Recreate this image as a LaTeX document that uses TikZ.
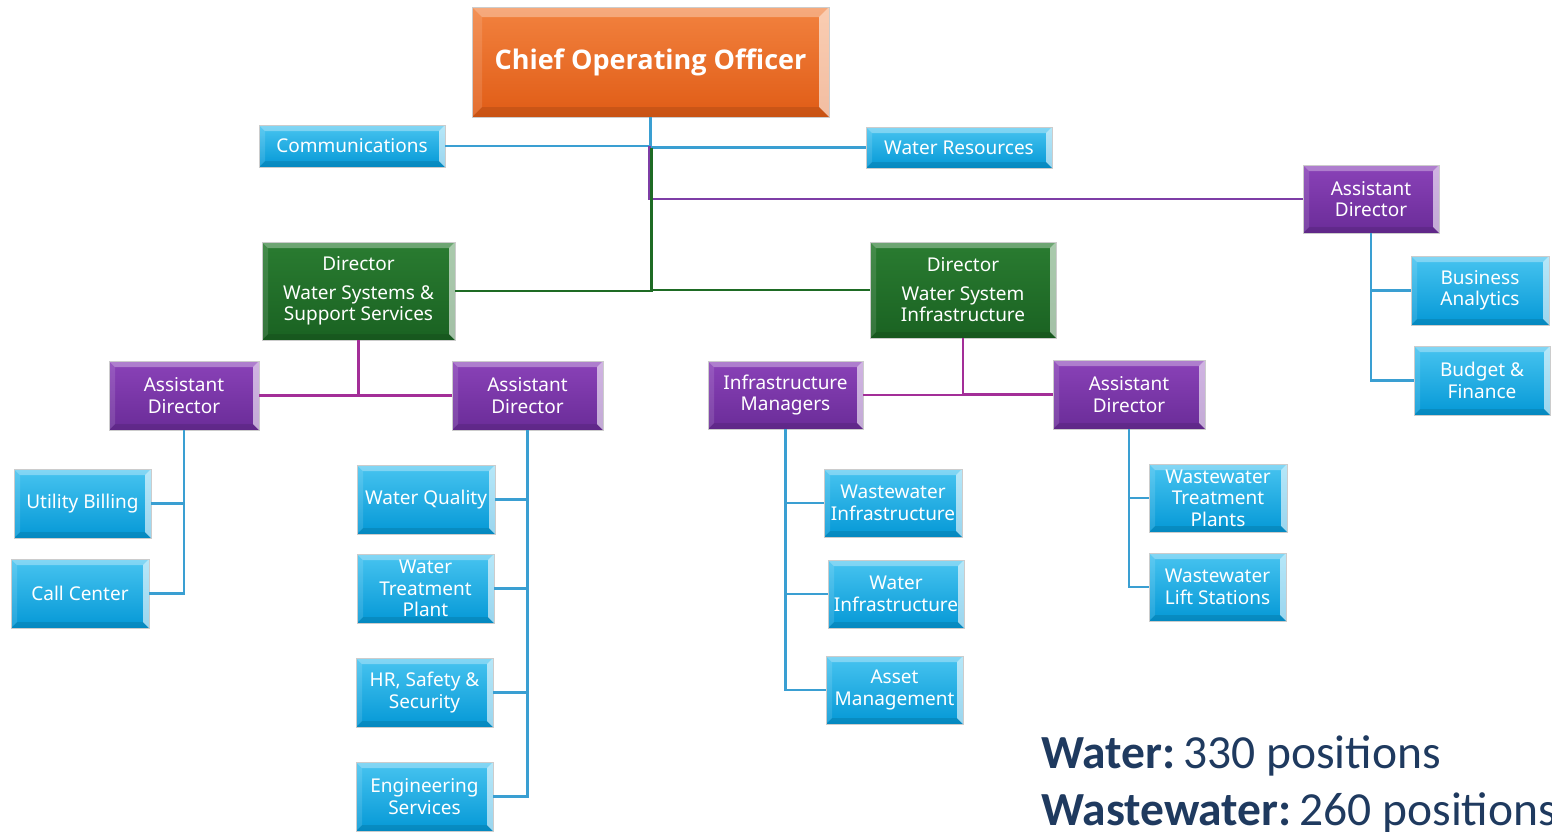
\documentclass[tikz,border=0pt]{standalone}
\usepackage{fontspec}
\setmainfont{Noto Sans}
\newfontfamily\calib{Carlito}
\newfontfamily\coofont{Open Sans}[UprightFont=* Bold]
\definecolor{bluetop}{HTML}{48C4F0}
\definecolor{bluebot}{HTML}{0498D6}
\definecolor{purtop}{HTML}{8A42B8}
\definecolor{purbot}{HTML}{6A2C98}
\definecolor{grntop}{HTML}{2A7C31}
\definecolor{grnbot}{HTML}{1A6222}
\definecolor{ortop}{HTML}{F2823F}
\definecolor{orbot}{HTML}{E05C16}
\definecolor{cblue}{HTML}{3A9FD2}
\definecolor{cpurple}{HTML}{7E3EA6}
\definecolor{cmag}{HTML}{A32E98}
\definecolor{cgreen}{HTML}{1E6B24}
\definecolor{navy}{HTML}{1F3A5F}
\begin{document}
\begin{tikzpicture}[x=1pt,y=-1pt,
  bevel/.style={path picture={
    \fill[white,opacity=.32] (path picture bounding box.north west) -- (path picture bounding box.north east)
      -- ([shift={(-#1,-#1)}]path picture bounding box.north east) -- ([shift={(#1,-#1)}]path picture bounding box.north west) -- cycle;
    \fill[white,opacity=.6] (path picture bounding box.north east) -- (path picture bounding box.south east)
      -- ([shift={(-#1,#1)}]path picture bounding box.south east) -- ([shift={(-#1,-#1)}]path picture bounding box.north east) -- cycle;
    \fill[black,opacity=.10] (path picture bounding box.south west) -- (path picture bounding box.south east)
      -- ([shift={(-#1,#1)}]path picture bounding box.south east) -- ([shift={(#1,#1)}]path picture bounding box.south west) -- cycle;
    \fill[white,opacity=.12] (path picture bounding box.north west) -- (path picture bounding box.south west)
      -- ([shift={(#1,#1)}]path picture bounding box.south west) -- ([shift={(#1,-#1)}]path picture bounding box.north west) -- cycle;
  }},
  orgbox/.style={draw=black!20, line width=0.8pt, inner sep=0pt, align=center, text=white,
    font=\fontsize{19}{21.5}\selectfont, bevel=6pt},
  bluebox/.style={orgbox, top color=bluetop, bottom color=bluebot},
  purbox/.style={orgbox, top color=purtop, bottom color=purbot},
  grnbox/.style={orgbox, top color=grntop, bottom color=grnbot},
  orbox/.style={orgbox, top color=ortop, bottom color=orbot, bevel=10pt,
    font=\coofont\fontsize{27}{32}\selectfont},
  blueline/.style={draw=cblue, line width=2.6pt},
  purline/.style={draw=cpurple, line width=2.2pt},
  magline/.style={draw=cmag, line width=2.6pt},
  grnline/.style={draw=cgreen, line width=2.6pt},
  note/.style={anchor=base west, text=navy, inner sep=0pt, font=\calib\fontsize{47.5}{54}\selectfont}
]
\useasboundingbox (0,0) rectangle (1552,831);

% nodes
\node[orbox, minimum width=357pt, minimum height=110pt] (coo) at (650.5,62) {Chief Operating Officer};
\node[bluebox, minimum width=186pt, minimum height=42pt] (comm) at (352,146) {Communications};
\node[bluebox, minimum width=186pt, minimum height=41pt] (wr) at (959,147.5) {Water Resources};
\node[purbox, minimum width=136pt, minimum height=68pt] (adr) at (1371,199) {Assistant\\Director};
\node[grnbox, minimum width=193pt, minimum height=98pt] (dira) at (358.5,291) {Director\\[7pt]Water Systems \&\\Support Services};
\node[grnbox, minimum width=186pt, minimum height=96pt] (dirb) at (963,290) {Director\\[7pt]Water System\\Infrastructure};
\node[purbox, minimum width=150pt, minimum height=69pt] (ad1) at (184,395.5) {Assistant\\Director};
\node[purbox, minimum width=151pt, minimum height=69pt] (ad2) at (527.5,395.5) {Assistant\\Director};
\node[purbox, minimum width=155pt, minimum height=68pt] (im) at (785.5,395) {Infrastructure\\Managers};
\node[purbox, minimum width=152pt, minimum height=69pt] (ad4) at (1129,394.5) {Assistant\\Director};
\node[bluebox, minimum width=138pt, minimum height=69pt] (ba) at (1480,290.5) {Business\\Analytics};
\node[bluebox, minimum width=136pt, minimum height=69pt] (bf) at (1482,380.5) {Budget \&\\Finance};
\node[bluebox, minimum width=137pt, minimum height=69pt] (ub) at (82.5,503.5) {Utility Billing};
\node[bluebox, minimum width=138pt, minimum height=69pt] (cc) at (80,593.5) {Call Center};
\node[bluebox, minimum width=138pt, minimum height=69pt] (wq) at (426,499.5) {Water Quality};
\node[bluebox, minimum width=137pt, minimum height=69pt] (wtp) at (425.5,588.5) {Water\\Treatment\\Plant};
\node[bluebox, minimum width=137pt, minimum height=69pt] (hr) at (424.5,692.5) {HR, Safety \&\\Security};
\node[bluebox, minimum width=137pt, minimum height=69pt] (es) at (424.5,796.5) {Engineering\\Services};
\node[bluebox, minimum width=138pt, minimum height=68pt] (wi) at (893,503) {Wastewater\\Infrastructure};
\node[bluebox, minimum width=136pt, minimum height=68pt] (wai) at (896,594) {Water\\Infrastructure};
\node[bluebox, minimum width=137pt, minimum height=68pt] (am) at (894.5,690) {Asset\\Management};
\node[bluebox, minimum width=138pt, minimum height=68pt] (wtps) at (1218,498) {Wastewater\\Treatment\\Plants};
\node[bluebox, minimum width=137pt, minimum height=68pt] (wls) at (1217.5,587) {Wastewater\\Lift Stations};

% connectors
\draw[blueline] (coo.south) |- (comm.east);
\draw[blueline] (coo.south) |- (wr.west);
\draw[purline] ([xshift=-1pt]coo.south |- comm.east) |- (adr.west);
\draw[grnline] ([xshift=1pt]coo.south |- wr.west) |- (dira.east);
\draw[grnline] ([xshift=1pt]coo.south |- wr.west) |- (dirb.west);
\draw[magline] (dira.south) |- (ad1.east);
\draw[magline] (dira.south) |- (ad2.west);
\draw[magline] (dirb.south) |- (im.east);
\draw[magline] (dirb.south) |- (ad4.west);
\draw[blueline] (adr.south) |- (ba.west);
\draw[blueline] (adr.south) |- (bf.west);
\draw[blueline] (ad1.south) |- (ub.east);
\draw[blueline] (ad1.south) |- (cc.east);
\draw[blueline] (ad2.south) |- (wq.east);
\draw[blueline] (ad2.south) |- (wtp.east);
\draw[blueline] (ad2.south) |- (hr.east);
\draw[blueline] (ad2.south) |- (es.east);
\draw[blueline] (im.south) |- (wi.west);
\draw[blueline] (im.south) |- (wai.west);
\draw[blueline] (im.south) |- (am.west);
\draw[blueline] (ad4.south) |- (wtps.west);
\draw[blueline] (ad4.south) |- (wls.west);

% note
\node[note] (n1) at (1041,768) {\textbf{Water:}\,330 positions};
\node[note] (n2) at (1041,825) {\textbf{Wastewater:}\,260 positions};
\end{tikzpicture}
\end{document}
